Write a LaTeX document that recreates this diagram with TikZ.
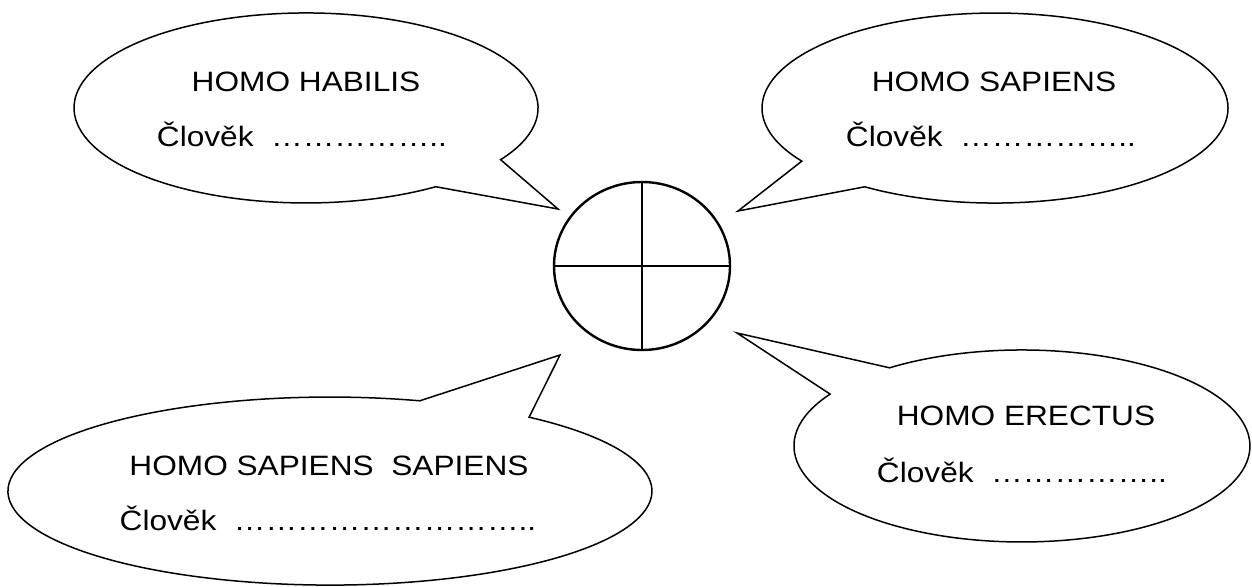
\documentclass[tikz,border=0pt]{standalone}
\usepackage{fontspec}
\setmainfont{Liberation Sans}[FakeStretch=1.13]
\usetikzlibrary{shapes.geometric}
\begin{document}
\begin{tikzpicture}[x=0.5pt,y=0.5pt,
  bubble/.style={draw=black, line width=0.75pt, line join=miter},
  lbl/.style={anchor=base, inner sep=0pt, font=\fontsize{14}{16}\selectfont},
  cross/.style={draw=black, line width=1.2pt}]
\useasboundingbox (0,0) rectangle (1252,586);
% tips
\coordinate (tlTip) at (558,377);
\coordinate (trTip) at (738,375);
\coordinate (brTip) at (737,253);
\coordinate (blTip) at (560,231);
% top-left bubble
\draw[bubble] (tlTip) -- (500.6,426.3) arc[start angle=-33, end angle=304, x radius=232, y radius=95] -- cycle;
% top-right bubble
\draw[bubble] (trTip) -- (864.7,399.2) arc[start angle=236, end angle=574, x radius=233, y radius=95] -- cycle;
% bottom-right bubble
\draw[bubble] (brTip) -- (830.1,191.9) arc[start angle=147.3, end angle=485.5, x radius=228, y radius=96] -- cycle;
% bottom-left bubble
\draw[bubble] (blTip) -- (419.8,185.2) arc[start angle=73.8, end angle=411.8, x radius=322, y radius=94] -- cycle;
% central circle
\node[ellipse, cross, minimum width=88pt, minimum height=84pt, inner sep=0pt] (c) at (642,320) {};
\draw[cross] (c.north) -- (c.south);
\draw[cross] (c.west) -- (c.east);
% texts
\node[lbl] (tlA) at (306,495) {HOMO HABILIS};
\node[lbl] (tlB) at (302,440) {Člověk~~……………..};
\node[lbl] (trA) at (994,495) {HOMO SAPIENS};
\node[lbl] (trB) at (991,440) {Člověk~~……………..};
\node[lbl] (brA) at (1026,161) {HOMO ERECTUS};
\node[lbl] (brB) at (1022,104) {Člověk~~……………..};
\node[lbl] (blA) at (329,111) {HOMO SAPIENS~~SAPIENS};
\node[lbl] (blB) at (328,56) {Člověk~~………………………..};
\end{tikzpicture}
\end{document}
